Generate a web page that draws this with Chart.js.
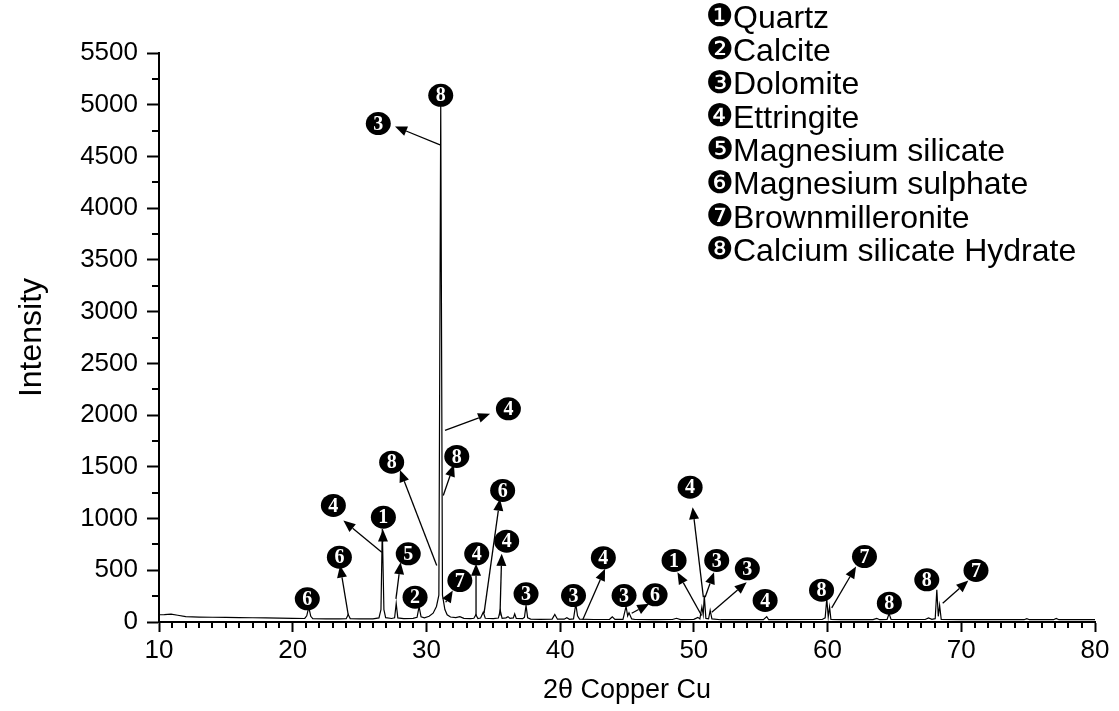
<!DOCTYPE html>
<html lang="en">
<head>
<meta charset="UTF-8">
<title>XRD pattern</title>
<script src="https://cdn.jsdelivr.net/npm/chart.js"></script>
<style>
    body { margin: 0; background: #fff; }
    .chart-container { width: 1119px; height: 711px; position: relative; }
</style>
</head>
<body>
<div class="chart-container"><canvas id="xrdChart"></canvas></div>
<script>
// diffraction trace (2theta, counts)
const twoTheta = [
    10.0, 10.4, 10.9, 11.4, 12.0, 13.0, 14.0, 15.0, 16.0, 17.0, 18.0, 19.0, 20.0,
    20.9, 21.05, 21.2, 21.35, 21.5, 22.5, 23.5, 24.0, 24.15, 24.3, 25.0, 26.0,
    26.45, 26.6, 26.7, 26.82, 26.95, 27.4, 27.62, 27.74, 27.86, 28.3, 29.0,
    29.3, 29.45, 29.6, 29.85, 30.2, 30.5, 30.75, 30.93, 31.07, 31.2, 31.38, 31.55,
    31.8, 32.2, 32.5, 32.8, 33.3, 33.55, 33.7, 33.85, 34.05, 34.25, 34.4, 35.0,
    35.38, 35.52, 35.66, 35.95, 36.1, 36.25, 36.5, 36.6, 36.72, 37.2, 37.33, 37.45,
    37.57, 37.8, 38.5, 39.4, 39.6, 39.8, 40.3, 40.5, 40.7, 41.0, 41.17, 41.3, 41.45,
    42.5, 43.7, 43.9, 44.1, 44.7, 44.93, 45.05, 45.15, 45.35, 45.6, 47.0, 48.4,
    48.7, 49.0, 50.0, 50.3, 50.45, 50.6, 50.7, 50.78, 50.9, 51.1, 51.22, 51.35,
    52.0, 55.2, 55.45, 55.6, 59.6, 59.82, 59.94, 60.05, 60.15, 60.25, 61.0, 63.4,
    63.68, 63.9, 64.45, 64.6, 64.75, 67.3, 67.55, 67.8, 68.05, 68.17, 68.28, 68.38,
    68.5, 70.0, 74.7, 74.9, 75.1, 76.9, 77.1, 77.3, 80.0
];
const intensity = [
    70, 72, 76, 65, 52, 48, 46, 44, 43, 41, 39, 37, 36,
    34, 60, 145, 55, 33, 31, 30, 32, 72, 33, 30, 31,
    40, 120, 900, 120, 42, 34, 40, 180, 40, 33, 35,
    45, 148, 50, 40, 55, 85, 150, 260, 5000, 260, 120, 70,
    48, 42, 52, 35, 32, 36, 70, 34, 38, 95, 36, 32,
    38, 112, 36, 40, 52, 35, 40, 78, 35, 32, 45, 160,
    40, 28, 25, 28, 72, 27, 27, 42, 26, 30, 175, 60, 28,
    24, 26, 50, 25, 25, 150, 60, 90, 30, 24, 22, 24,
    36, 23, 26, 45, 30, 145, 70, 255, 35, 30, 112, 30,
    22, 22, 52, 22, 24, 40, 225, 50, 145, 26, 22, 23,
    34, 22, 25, 82, 25, 24, 40, 25, 32, 312, 55, 160,
    24, 22, 22, 32, 22, 22, 35, 22, 22
];

const xTicks = [10, 20, 30, 40, 50, 60, 70, 80];
const yTicks = [0, 500, 1000, 1500, 2000, 2500, 3000, 3500, 4000, 4500, 5000, 5500];

const phaseSymbols = ['\u2776', '\u2777', '\u2778', '\u2779', '\u277A', '\u277B', '\u277C', '\u277D'];
const phaseNames = ['Quartz', 'Calcite', 'Dolomite', 'Ettringite', 'Magnesium silicate',
    'Magnesium sulphate', 'Brownmilleronite', 'Calcium silicate Hydrate'];

// peak labels: phase number and where the badge sits (2theta, counts)
const markerNum = [6, 6, 4, 1, 5, 2, 8, 8, 7, 4, 6, 4, 3, 3, 4, 3, 6, 1, 4, 3, 3, 4, 8, 7, 8, 8, 7, 4, 3, 8];
const markerX = [21.09, 23.49, 23.04, 26.78, 28.64, 29.15, 27.4, 32.27, 32.5, 33.76, 35.7, 36.0, 37.45,
    41.0, 43.23, 44.78, 47.1, 48.52, 49.72, 51.71, 54.0, 55.33, 59.55, 62.76, 64.62, 67.42, 71.1,
    36.13, 26.4, 31.07];
const markerY = [224, 627, 1127, 1013, 659, 240, 1545, 1600, 401, 659, 1272, 781, 273,
    256, 621, 256, 263, 595, 1303, 595, 514, 208, 308, 633, 182, 408, 498,
    2061, 4818, 5091];

// arrows from a peak to its badge
const arrowFromX = [24.16, 26.66, 26.75, 27.72, 30.77, 31.26, 31.44, 33.71, 34.31, 35.5, 31.39, 31.02,
    41.69, 45.35, 50.58, 50.71, 50.84, 51.34, 60.31, 68.61];
const arrowFromY = [63, 675, 790, 224, 546, 1223, 191, 63, 85, 63, 1852, 4611,
    21, 85, 63, 240, 240, 95, 137, 182];
const arrowToX = [23.54, 23.79, 26.75, 28.07, 28.02, 32.06, 31.97, 33.71, 35.5, 35.63, 34.76, 27.65,
    43.36, 46.66, 48.77, 49.91, 51.51, 53.95, 62.13, 70.53];
const arrowToY = [546, 981, 895, 578, 1469, 1523, 305, 563, 1191, 659, 2013, 4790,
    514, 176, 482, 1110, 482, 385, 537, 401];

const sansFont = '"Liberation Sans", Arial, sans-serif';

function drawArrow(ctx, x1, y1, x2, y2) {
    const ang = Math.atan2(y2 - y1, x2 - x1);
    const len = 12, half = 5;
    const bx = x2 - len * Math.cos(ang), by = y2 - len * Math.sin(ang);
    ctx.beginPath();
    ctx.moveTo(x1, y1);
    ctx.lineTo(bx, by);
    ctx.stroke();
    ctx.beginPath();
    ctx.moveTo(x2, y2);
    ctx.lineTo(bx + half * Math.sin(ang), by - half * Math.cos(ang));
    ctx.lineTo(bx - half * Math.sin(ang), by + half * Math.cos(ang));
    ctx.closePath();
    ctx.fill();
}

const decorPlugin = {
    id: 'decor',
    afterDraw(chart) {
        const ctx = chart.ctx;
        const xs = chart.scales.x, ys = chart.scales.y;
        ctx.save();
        ctx.strokeStyle = '#000';
        ctx.fillStyle = '#000';

        // minor ticks
        ctx.lineWidth = 2;
        for (let v = 11; v < 80; v++) {
            if (v % 10 === 0) continue;
            const px = Math.round(xs.getPixelForValue(v));
            ctx.beginPath();
            ctx.moveTo(px, ys.bottom);
            ctx.lineTo(px, ys.bottom + 6);
            ctx.stroke();
        }
        for (let v = 250; v < 5500; v += 500) {
            const py = Math.round(ys.getPixelForValue(v));
            ctx.beginPath();
            ctx.moveTo(xs.left - 7, py);
            ctx.lineTo(xs.left, py);
            ctx.stroke();
        }

        // arrows
        ctx.lineWidth = 1.3;
        for (let i = 0; i < arrowFromX.length; i++) {
            drawArrow(ctx,
                xs.getPixelForValue(arrowFromX[i]), ys.getPixelForValue(arrowFromY[i]),
                xs.getPixelForValue(arrowToX[i]), ys.getPixelForValue(arrowToY[i]));
        }

        // numbered badges
        ctx.textAlign = 'center';
        ctx.textBaseline = 'middle';
        for (let i = 0; i < markerNum.length; i++) {
            const cx = xs.getPixelForValue(markerX[i]);
            const cy = ys.getPixelForValue(markerY[i]);
            ctx.fillStyle = '#000';
            ctx.beginPath();
            ctx.ellipse(cx, cy, 12.5, 11.5, 0, 0, Math.PI * 2);
            ctx.fill();
            ctx.fillStyle = '#fff';
            ctx.font = 'bold 20px "Liberation Serif", serif';
            ctx.fillText(String(markerNum[i]), cx, cy + 1);
        }

        // phase key
        ctx.fillStyle = '#000';
        ctx.textAlign = 'left';
        for (let i = 0; i < phaseNames.length; i++) {
            const y = 18 + i * 33.3;
            ctx.font = '31px "DejaVu Sans", sans-serif';
            ctx.fillText(phaseSymbols[i], 706, y);
            ctx.font = '32px "Liberation Sans", Arial, sans-serif';
            ctx.fillText(phaseNames[i], 733, y + 1);
        }
        ctx.restore();
    }
};

const ctx = document.getElementById('xrdChart').getContext('2d');
new Chart(ctx, {
    type: 'line',
    data: {
        datasets: [{
            label: 'XRD',
            data: twoTheta.map((t, i) => ({ x: t, y: intensity[i] })),
            borderColor: '#000',
            borderWidth: 1.2,
            pointRadius: 0,
            tension: 0,
            fill: false
        }]
    },
    options: {
        responsive: true,
        maintainAspectRatio: false,
        animation: false,
        layout: { padding: { top: 53, right: 24, left: 0, bottom: 0 } },
        plugins: { legend: { display: false }, tooltip: { enabled: false } },
        scales: {
            x: {
                type: 'linear',
                min: xTicks[0],
                max: xTicks[xTicks.length - 1],
                afterFit: s => { s.height = 89; },
                afterBuildTicks: s => { s.ticks = xTicks.map(v => ({ value: v })); },
                ticks: { color: '#000', font: { family: sansFont, size: 26 }, padding: 3, maxRotation: 0,
                    callback: v => String(v) },
                grid: { drawOnChartArea: false, drawTicks: true, tickLength: 10, tickWidth: 2, tickColor: '#000' },
                border: { display: true, color: '#000', width: 2 },
                title: { display: true, text: '2\u03B8 Copper Cu', color: '#000',
                    font: { family: sansFont, size: 27 }, padding: { bottom: 4 } }
            },
            y: {
                type: 'linear',
                min: yTicks[0],
                max: yTicks[yTicks.length - 1],
                afterFit: s => { s.width = 159; },
                afterBuildTicks: s => { s.ticks = yTicks.map(v => ({ value: v })); },
                ticks: { color: '#000', font: { family: sansFont, size: 26 }, padding: 9,
                    callback: v => String(v) },
                grid: { drawOnChartArea: false, drawTicks: true, tickLength: 12, tickWidth: 2, tickColor: '#000' },
                border: { display: true, color: '#000', width: 2 },
                title: { display: true, text: 'Intensity', color: '#000',
                    font: { family: sansFont, size: 32 }, padding: { top: 13 } }
            }
        }
    },
    plugins: [decorPlugin]
});
</script>
</body>
</html>
